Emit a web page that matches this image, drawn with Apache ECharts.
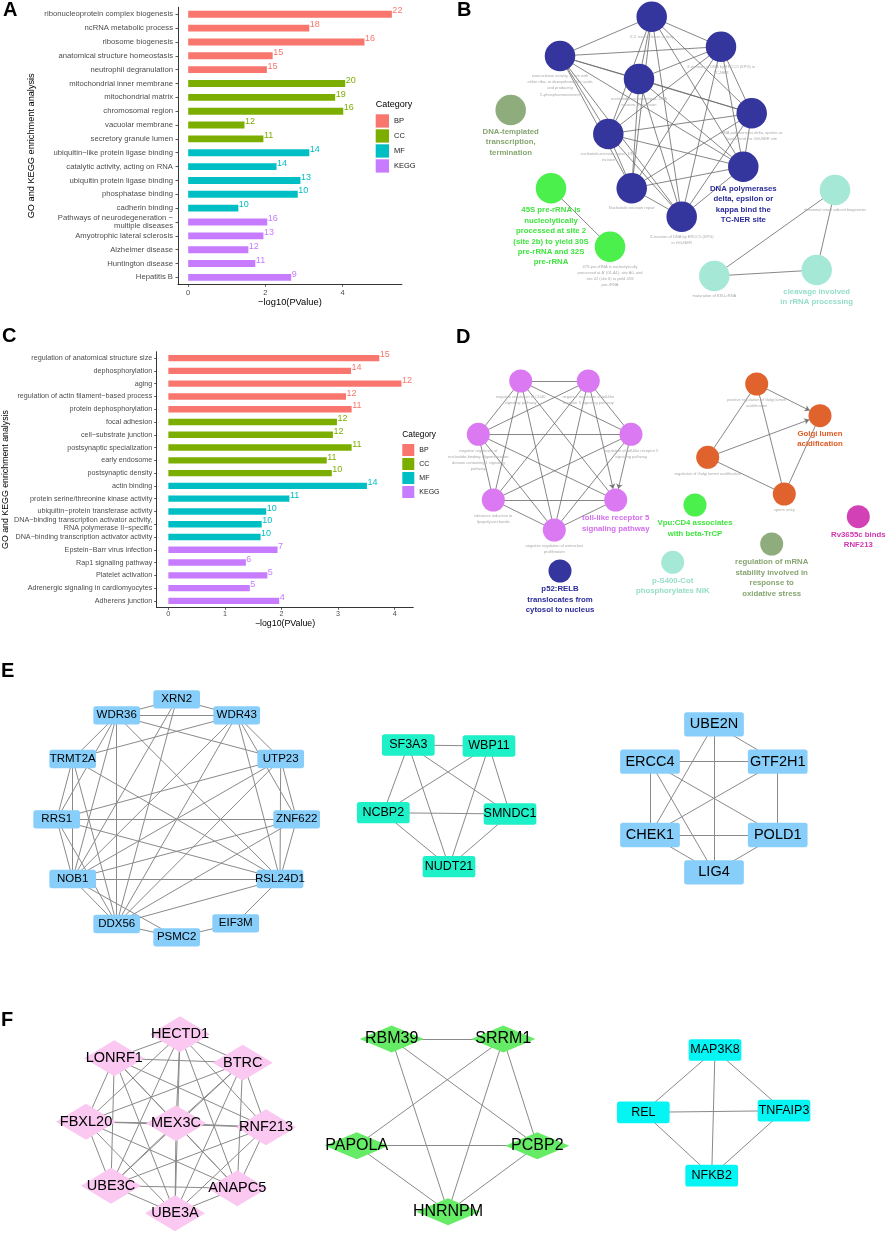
<!DOCTYPE html>
<html><head><meta charset="utf-8">
<script src="https://cdn.jsdelivr.net/npm/echarts@6/dist/echarts.min.js"></script>
<style>html,body{margin:0;padding:0;background:#fff}#c{width:886px;height:1233px}</style>
</head><body><div id="c"></div><script>
// ---------- Panel A data ----------
const categoriesA = ['ribonucleoprotein complex biogenesis','ncRNA metabolic process','ribosome biogenesis','anatomical structure homeostasis','neutrophil degranulation','mitochondrial inner membrane','mitochondrial matrix','chromosomal region','vacuolar membrane','secretory granule lumen','ubiquitin\u2212like protein ligase binding','catalytic activity, acting on RNA','ubiquitin protein ligase binding','phosphatase binding','cadherin binding','Pathways of neurodegeneration \u2212\nmultiple diseases','Amyotrophic lateral sclerosis','Alzheimer disease','Huntington disease','Hepatitis B'];
const pvalA = [5.28,3.14,4.57,2.19,2.04,4.07,3.81,4.02,1.46,1.95,3.14,2.29,2.91,2.84,1.30,2.05,1.95,1.56,1.74,2.67];
const countA = [22,18,16,15,15,20,19,16,12,11,14,14,13,10,10,16,13,12,11,9];
const groupA = ['BP','BP','BP','BP','BP','CC','CC','CC','CC','CC','MF','MF','MF','MF','MF','KEGG','KEGG','KEGG','KEGG','KEGG'];
const ticksA = [0,2,4];
// ---------- Panel C data ----------
const categoriesC = ['regulation of anatomical structure size','dephosphorylation','aging','regulation of actin filament\u2212based process','protein dephosphorylation','focal adhesion','cell\u2212substrate junction','postsynaptic specialization','early endosome','postsynaptic density','actin binding','protein serine/threonine kinase activity','ubiquitin\u2212protein transferase activity','DNA\u2212binding transcription activator activity,\nRNA polymerase II\u2212specific','DNA\u2212binding transcription activator activity','Epstein\u2212Barr virus infection','Rap1 signaling pathway','Platelet activation','Adrenergic signaling in cardiomyocytes','Adherens junction'];
const pvalC = [3.73,3.23,4.12,3.14,3.24,2.98,2.91,3.24,2.80,2.89,3.51,2.14,1.73,1.65,1.63,1.93,1.37,1.75,1.44,1.96];
const countC = [15,14,12,12,11,12,12,11,11,10,14,11,10,10,10,7,6,5,5,4];
const groupC = ['BP','BP','BP','BP','BP','CC','CC','CC','CC','CC','MF','MF','MF','MF','MF','KEGG','KEGG','KEGG','KEGG','KEGG'];
const ticksC = [0,1,2,3,4];
const groups = ['BP','CC','MF','KEGG'];

// ---------- Panel B network (panel-local coordinates) ----------
const netBNodes = [
  ['b1',201.7,16.7,'blue',0,"3'-5' exonuclease activity"],
  ['b2',110,56,'blue',0,"exonuclease activity, active with\neither ribo- or deoxyribonucleic acids\nand producing\n5'-phosphomonoesters"],
  ['b3',271,46.7,'blue',0,"3'-incision of DNA by ERCC5 (XPG) in\nTC-NER"],
  ['b4',189,79,'blue',0,"nucleotide-excision repair, DNA\nincision, 3'-to lesion"],
  ['b5',301.7,113.3,'blue',0,"DNA polymerases delta, epsilon or\nkappa bind the GG-NER site"],
  ['b6',158.3,134,'blue',0,"nucleotide-excision repair, DNA\nincision"],
  ['b7',293.3,166.7,'blue',1,"DNA polymerases\ndelta, epsilon or\nkappa bind the\nTC-NER site"],
  ['b8',181.7,188.3,'blue',0,"Nucleotide excision repair"],
  ['b9',231.7,216.7,'blue',0,"3'-incision of DNA by ERCC5 (XPG)\nin GG-NER"],
  ['n1',60.7,110,'sage',1,"DNA-templated\ntranscription,\ntermination"],
  ['g1',101,188.3,'green',1,"45S pre-rRNA is\nnucleolytically\nprocessed at site 2\n(site 2b) to yield 30S\npre-rRNA and 32S\npre-rRNA"],
  ['g2',160,246.7,'green',0,"47S pre-rRNA is nucleolytically\nprocessed at A' (01,A1), site A0, and\nsite 02 (site 6) to yield 45S\npre-rRNA"],
  ['t1',385,190,'teal',0,"ribosomal small subunit biogenesis"],
  ['t2',264.3,276,'teal',0,"maturation of SSU-rRNA"],
  ['t3',366.7,270,'teal',1,"cleavage involved\nin rRNA processing"]
];
const netBLinks = "b1-b2 b1-b3 b1-b4 b1-b5 b1-b6 b1-b7 b1-b8 b1-b9 b2-b3 b2-b4 b2-b5 b2-b6 b2-b7 b2-b8 b2-b9 b3-b4 b3-b5 b3-b6 b3-b7 b3-b8 b3-b9 b4-b5 b4-b6 b4-b7 b4-b8 b4-b9 b5-b6 b5-b7 b5-b8 b5-b9 b6-b7 b6-b8 b6-b9 b7-b8 b7-b9 b8-b9 g1-g2 t1-t2 t1-t3 t2-t3";

// ---------- Panel D network ----------
const netDNodes = [
  ['p1',70.7,61,'violet',0,"negative regulation of CD40\nsignaling pathway"],
  ['p2',138.3,61,'violet',0,"negative regulation of toll-like\nreceptor 5 signaling pathway"],
  ['p3',28.3,114.3,'violet',0,"negative regulation of\nnucleotide-binding oligomerization\ndomain containing 1 signaling\npathway"],
  ['p4',181,114.3,'violet',0,"regulation of toll-like receptor 5\nsignaling pathway"],
  ['p5',43.3,180,'violet',0,"tolerance induction to\nlipopolysaccharide"],
  ['p6',165.7,180,'violet',1,"toll-like receptor 5\nsignaling pathway"],
  ['p7',104.3,210,'violet',0,"negative regulation of osteoclast\nproliferation"],
  ['o1',306.7,64,'orange',0,"positive regulation of Golgi lumen\nacidification"],
  ['o2',370,95.7,'orange',1,"Golgi lumen\nacidification"],
  ['o3',257.7,137.3,'orange',0,"regulation of Golgi lumen acidification"],
  ['o4',334.3,174,'orange',0,"sperm entry"],
  ['s1',245,185,'green',1,"Vpu:CD4 associates\nwith beta-TrCP"],
  ['s2',222.7,242.3,'teal',1,"p-S400-Cot\nphosphorylates NIK"],
  ['s3',321.7,224,'sage',1,"regulation of mRNA\nstability involved in\nresponse to\noxidative stress"],
  ['s4',408.3,196.7,'magenta',1,"Rv3655c binds\nRNF213"],
  ['s5',110,251,'navy',1,"p52:RELB\ntranslocates from\ncytosol to nucleus"]
];
const netDLinks = "p1-p2 p1-p3 p1-p4 p1-p5 p1-p6 p1-p7 p2-p3 p2-p4 p2-p5 p2>p6 p2-p7 p3-p4 p3-p5 p3-p6 p3-p7 p4-p5 p4>p6 p4-p7 p5-p6 p5-p7 p6-p7 o1>o2 o3>o2 o1-o3 o1-o4 o3-o4 o4-o2";

// ---------- Panel E networks ----------
const netE1Nodes = [['XRN2',176.7,79.3],['WDR36',116.7,95.3],['WDR43',236.7,95.3],['TRMT2A',72.7,139],['UTP23',280.7,139],['RRS1',56.7,199.3],['ZNF622',296.7,199.3],['NOB1',72.7,259],['RSL24D1',280,259],['DDX56',116.7,304],['PSMC2',176.7,317.3],['EIF3M',235.7,303.3]];
const netE1Links = "XRN2-WDR36 XRN2-WDR43 XRN2-NOB1 XRN2-DDX56 WDR36-WDR43 WDR36-UTP23 WDR36-RSL24D1 WDR36-TRMT2A WDR36-RRS1 WDR36-NOB1 WDR36-DDX56 WDR43-TRMT2A WDR43-UTP23 WDR43-ZNF622 WDR43-RSL24D1 WDR43-NOB1 WDR43-DDX56 TRMT2A-RRS1 TRMT2A-NOB1 TRMT2A-DDX56 TRMT2A-RSL24D1 UTP23-RRS1 UTP23-NOB1 UTP23-DDX56 UTP23-ZNF622 UTP23-RSL24D1 RRS1-ZNF622 RRS1-RSL24D1 RRS1-NOB1 RRS1-DDX56 ZNF622-NOB1 ZNF622-DDX56 ZNF622-RSL24D1 NOB1-RSL24D1 NOB1-DDX56 NOB1-PSMC2 RSL24D1-DDX56 RSL24D1-EIF3M PSMC2-EIF3M DDX56-PSMC2";
const netE2Nodes = [['SF3A3',408.3,125],['WBP11',489,126],['NCBP2',383.3,192.7],['SMNDC1',510,194],['NUDT21',449,246.7]];
const netE2Links = "SF3A3-WBP11 SF3A3-NCBP2 SF3A3-SMNDC1 SF3A3-NUDT21 WBP11-NCBP2 WBP11-SMNDC1 WBP11-NUDT21 NCBP2-SMNDC1 NCBP2-NUDT21 SMNDC1-NUDT21";
const netE3Nodes = [['UBE2N',714,104.3],['ERCC4',650,141.7],['GTF2H1',777.7,141.7],['CHEK1',650,215],['POLD1',777.7,215],['LIG4',714,252.3]];
const netE3Links = "UBE2N-GTF2H1 UBE2N-CHEK1 UBE2N-LIG4 ERCC4-GTF2H1 ERCC4-CHEK1 ERCC4-LIG4 ERCC4-POLD1 GTF2H1-CHEK1 GTF2H1-POLD1 CHEK1-POLD1 CHEK1-LIG4 POLD1-LIG4";

// ---------- Panel F networks ----------
const netF1Nodes = [['HECTD1',180,84.3],['LONRF1',114.3,108.3],['BTRC',242.7,112.7],['FBXL20',86,171.7],['MEX3C',176,173.3],['RNF213',266,177.3],['UBE3C',111,235.7],['ANAPC5',237.3,238.3],['UBE3A',175,263.3]];
const netF1Links = "HECTD1-LONRF1 HECTD1-BTRC HECTD1-FBXL20 HECTD1-MEX3C HECTD1-RNF213 HECTD1-UBE3C HECTD1-ANAPC5 HECTD1-UBE3A LONRF1-BTRC LONRF1-FBXL20 LONRF1-MEX3C LONRF1-RNF213 LONRF1-UBE3C LONRF1-ANAPC5 LONRF1-UBE3A BTRC-FBXL20 BTRC-MEX3C BTRC-RNF213 BTRC-UBE3C BTRC-ANAPC5 BTRC-UBE3A FBXL20-MEX3C FBXL20-RNF213 FBXL20-UBE3C FBXL20-ANAPC5 FBXL20-UBE3A MEX3C-RNF213 MEX3C-UBE3C MEX3C-ANAPC5 MEX3C-UBE3A RNF213-UBE3C RNF213-ANAPC5 RNF213-UBE3A UBE3C-ANAPC5 UBE3C-UBE3A ANAPC5-UBE3A";
const netF2Nodes = [['RBM39',391.7,89],['SRRM1',503.3,89],['PAPOLA',356.7,195.7],['PCBP2',537.3,195.7],['HNRNPM',448,261.7]];
const netF2Links = "RBM39-SRRM1 RBM39-PCBP2 RBM39-HNRNPM SRRM1-PAPOLA SRRM1-PCBP2 SRRM1-HNRNPM PAPOLA-PCBP2 PAPOLA-HNRNPM PCBP2-HNRNPM";
const netF3Nodes = [['MAP3K8',715,100],['REL',643.3,162.3],['TNFAIP3',784,160.7],['NFKB2',711.7,225.7]];
const netF3Links = "MAP3K8-REL MAP3K8-TNFAIP3 MAP3K8-NFKB2 REL-TNFAIP3 REL-NFKB2 TNFAIP3-NFKB2";

// ---------- styles ----------
const FONT = 'Liberation Sans, Arial, sans-serif';
const groupColor = {BP:'#F8766D', CC:'#7CAE00', MF:'#00BFC4', KEGG:'#C77CFF'};
const clusterStyle = {
  blue:{node:'#35359E', text:'#2B2B9A'}, sage:{node:'#8FAC7C', text:'#86A571'},
  green:{node:'#4CF04C', text:'#3FE43F'}, teal:{node:'#A6E8D6', text:'#94DDC8'},
  violet:{node:'#DA79F2', text:'#D46DEE'}, orange:{node:'#E0622D', text:'#DD5A22'},
  magenta:{node:'#D242B6', text:'#CF38B0'}, navy:{node:'#35359E', text:'#2B2B9A'}
};
// small-radius rounded rectangle symbol drawn in its own size units
function roundedBox(w,h,r){
  return 'path://M'+r+',0L'+(w-r)+',0Q'+w+',0,'+w+','+r+'L'+w+','+(h-r)+'Q'+w+','+h+','+(w-r)+','+h+
    'L'+r+','+h+'Q0,'+h+',0,'+(h-r)+'L0,'+r+'Q0,0,'+r+',0Z';
}

function parseLinks(str){
  return str.trim().split(/\s+/).map(s=>{
    const dir = s.indexOf('>')>=0;
    const parts = s.split(/[->]/);
    const l = {source:parts[0], target:parts[1]};
    if(dir){ l.symbol=['none','arrow']; l.symbolSize=[0,5]; }
    return l;
  });
}
function barSeries(vals, counts, grp, axis, bw){
  return groups.map(g=>({
    type:'bar', name:g, xAxisIndex:axis, yAxisIndex:axis, barWidth:bw, barGap:'-100%',
    itemStyle:{color:groupColor[g]},
    label:{show:true, position:'right', distance:0.5, offset:[0,-3.3], fontSize:9, color:groupColor[g], fontFamily:FONT,
      formatter:p=>String(counts[p.dataIndex])},
    data: vals.map((v,i)=> grp[i]===g ? v : '-'),
    silent:true
  }));
}
function clusterSeries(nodes, links, gi, size){
  return {
    type:'graph', layout:'none', coordinateSystem:'cartesian2d', xAxisIndex:gi, yAxisIndex:gi,
    symbol:'circle',
    data: nodes.map(([id,x,y,cl,rep,txt])=>({
      name:id, value:[x,y], symbolSize:size,
      itemStyle:{color:clusterStyle[cl].node},
      label:{show:true, position:'bottom', distance:1.5, formatter:txt, fontFamily:FONT,
        fontSize:rep?7.8:4, lineHeight:rep?10.4:6.2, fontWeight:rep?'bold':'normal',
        color:rep?clusterStyle[cl].text:'#a9a9a9'}
    })),
    links: parseLinks(links),
    lineStyle:{color:'#6b6b6b', width:0.9, opacity:0.9, curveness:0},
    silent:true
  };
}
function geneSeries(nodes, links, gi, sym){
  const shape = sym.shape==='box' ? roundedBox(sym.size[0], sym.size[1], 2.6) : sym.shape;
  return {
    type:'graph', layout:'none', coordinateSystem:'cartesian2d', xAxisIndex:gi, yAxisIndex:gi,
    symbol:shape, symbolSize:sym.size, itemStyle:{color:sym.color},
    label:{show:true, position:'inside', color:'#000', fontSize:sym.font, fontFamily:FONT},
    data: nodes.map(([n,x,y])=>({name:n, value:[x,y]})),
    links: parseLinks(links),
    lineStyle:{color:'#8a8a8a', width:1, opacity:1, curveness:0},
    silent:true
  };
}
function hiddenX(gi,max){return {gridIndex:gi, type:'value', min:0, max:max, show:false};}
function hiddenY(gi,max){return {gridIndex:gi, type:'value', min:0, max:max, inverse:true, show:false};}
function panelTitle(t,l,tp){return {text:t, left:l, top:tp, padding:0, textStyle:{fontSize:20, fontWeight:'bold', color:'#000', fontFamily:FONT}};}
function smallTitle(t,l,tp,fs){return {text:t, left:l, top:tp, padding:0, textStyle:{fontSize:fs, fontWeight:'normal', color:'#000', fontFamily:FONT}};}

const axisCommon = {
  axisLine:{show:true, onZero:false, lineStyle:{color:'#000', width:0.8}},
  axisTick:{show:true, length:2.5, lineStyle:{color:'#333', width:0.8}}
};

const chart = echarts.init(document.getElementById('c'));
chart.setOption({
  animation:false,
  backgroundColor:'#fff',
  textStyle:{fontFamily:FONT},
  title:[
    panelTitle('A',3,0.5), panelTitle('B',457,0.5), panelTitle('C',2,326.5),
    panelTitle('D',456,327.5), panelTitle('E',1,661.5), panelTitle('F',1,1010.8),
    smallTitle('Category',375.7,100,9), smallTitle('Category',402.3,430.7,8.3)
  ],
  legend:[
    {data:groups, orient:'vertical', left:375.7, top:114.3, itemWidth:13.3, itemHeight:13.3, itemGap:1.7, icon:'rect', padding:0, selectedMode:false, textStyle:{fontSize:7.5, color:'#1a1a1a', fontFamily:FONT}},
    {data:groups, orient:'vertical', left:402.3, top:444, itemWidth:12, itemHeight:12, itemGap:2, icon:'rect', padding:0, selectedMode:false, textStyle:{fontSize:7, color:'#1a1a1a', fontFamily:FONT}}
  ],
  grid:[
    {left:178, top:7.3, width:223.9, height:277, outerBoundsMode:'none'},
    {left:156.7, top:351.7, width:256.6, height:255.6, outerBoundsMode:'none'},
    {left:450, top:0, width:436, height:320, outerBoundsMode:'none'},
    {left:450, top:320, width:436, height:300, outerBoundsMode:'none'},
    {left:0, top:620, width:886, height:330, outerBoundsMode:'none'},
    {left:0, top:950, width:886, height:283, outerBoundsMode:'none'}
  ],
  xAxis:[
    Object.assign({gridIndex:0, type:'value', min:-0.264, max:5.54, splitLine:{show:false},
      name:'\u2212log10(PValue)', nameLocation:'middle', nameGap:12.5, nameTextStyle:{fontSize:9.3, color:'#000', fontFamily:FONT},
      axisLabel:{customValues:ticksA, fontSize:7.5, color:'#4d4d4d', margin:4.3, fontFamily:FONT}}, axisCommon,
      {axisTick:Object.assign({}, axisCommon.axisTick, {customValues:ticksA})}),
    Object.assign({gridIndex:1, type:'value', min:-0.206, max:4.33, splitLine:{show:false},
      name:'\u2212log10(PValue)', nameLocation:'middle', nameGap:11.7, nameTextStyle:{fontSize:8.8, color:'#000', fontFamily:FONT},
      axisLabel:{customValues:ticksC, fontSize:7.2, color:'#4d4d4d', margin:3.4, fontFamily:FONT}}, axisCommon,
      {axisTick:Object.assign({}, axisCommon.axisTick, {customValues:ticksC})}),
    hiddenX(2,436), hiddenX(3,436), hiddenX(4,886), hiddenX(5,886)
  ],
  yAxis:[
    Object.assign({gridIndex:0, type:'category', inverse:true, data:categoriesA,
      name:'GO and KEGG enrichment analysis', nameLocation:'middle', nameGap:142, nameTextStyle:{fontSize:9.2, color:'#000', fontFamily:FONT},
      axisLabel:{interval:0, fontSize:7.7, lineHeight:7.8, color:'#4d4d4d', margin:5, fontFamily:FONT}}, axisCommon,
      {axisTick:Object.assign({}, axisCommon.axisTick, {alignWithLabel:true, interval:0})}),
    Object.assign({gridIndex:1, type:'category', inverse:true, data:categoriesC,
      name:'GO and KEGG enrichment analysis', nameLocation:'middle', nameGap:146, nameTextStyle:{fontSize:8.8, color:'#000', fontFamily:FONT},
      axisLabel:{interval:0, fontSize:7.2, lineHeight:7.8, color:'#4d4d4d', margin:4.4, fontFamily:FONT}}, axisCommon,
      {axisTick:Object.assign({}, axisCommon.axisTick, {alignWithLabel:true, interval:0})}),
    hiddenY(2,320), hiddenY(3,300), hiddenY(4,330), hiddenY(5,283)
  ],
  series:[].concat(
    barSeries(pvalA, countA, groupA, 0, 6.9),
    barSeries(pvalC, countC, groupC, 1, 6.4),
    [
      clusterSeries(netBNodes, netBLinks, 2, 30.5),
      clusterSeries(netDNodes, netDLinks, 3, 23),
      geneSeries(netE1Nodes, netE1Links, 4, {shape:'box', size:[46.7,18.3], color:'#87CEFA', font:11.5}),
      geneSeries(netE2Nodes, netE2Links, 4, {shape:'box', size:[52.7,21.3], color:'#1EF0C8', font:12.5}),
      geneSeries(netE3Nodes, netE3Links, 4, {shape:'box', size:[59.7,24.3], color:'#87CEFA', font:14.5}),
      geneSeries(netF1Nodes, netF1Links, 5, {shape:'diamond', size:[60,36], color:'#FAC8F0', font:14.5}),
      geneSeries(netF2Nodes, netF2Links, 5, {shape:'diamond', size:[64,27], color:'#66EB66', font:16}),
      geneSeries(netF3Nodes, netF3Links, 5, {shape:'box', size:[52.7,21.7], color:'#05F5F5', font:12.5})
    ]
  )
});
</script></body></html>
